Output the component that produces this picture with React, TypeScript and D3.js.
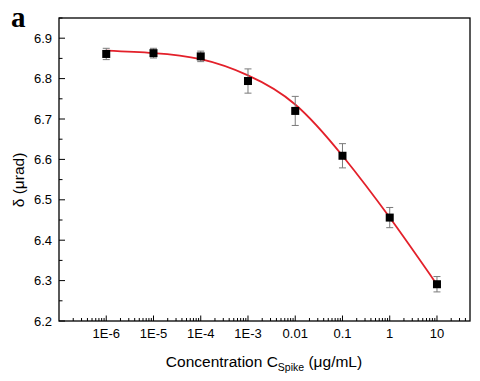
import React from "react";
import * as d3 from "d3";

const concentrations = [1e-6, 1e-5, 1e-4, 1e-3, 0.01, 0.1, 1, 10];
const deltaValues = [6.861, 6.863, 6.855, 6.794, 6.72, 6.609, 6.456, 6.291];
const deltaErrors = [0.014, 0.012, 0.013, 0.03, 0.036, 0.03, 0.025, 0.019];
const fitX = [1e-6, 1e-5, 1e-4, 1e-3, 0.01, 0.1, 1, 10];
const fitY = [6.869, 6.863, 6.848, 6.808, 6.736, 6.609, 6.456, 6.29];
const xTickValues = [1e-6, 1e-5, 1e-4, 1e-3, 0.01, 0.1, 1, 10];
const xTickLabels = ["1E-6", "1E-5", "1E-4", "1E-3", "0.01", "0.1", "1", "10"];
const yTickValues = [6.2, 6.3, 6.4, 6.5, 6.6, 6.7, 6.8, 6.9];

const W = 480;
const H = 381;
const M = { left: 59, right: 470, top: 18, bottom: 321 };

export default function App() {
  const x = d3.scaleLog().domain([1e-7, 50]).range([M.left, M.right]);
  const y = d3.scaleLinear().domain([6.2, 6.95]).range([M.bottom, M.top]);

  const minorX: number[] = [];
  for (let e = -7; e <= 1; e++) {
    for (let k = 2; k <= 9; k++) {
      const v = k * Math.pow(10, e);
      if (v < 50) minorX.push(v);
    }
  }
  const minorY = d3.range(6.25, 6.95, 0.1);

  const line = d3
    .line<number>()
    .x((_, i) => x(fitX[i]))
    .y((d) => y(d))
    .curve(d3.curveNatural);

  const font = "Liberation Sans, Arial, sans-serif";
  const errColor = "#7a7a7a";

  return (
    <svg
      width={W}
      height={H}
      style={{ position: "absolute", left: 0, top: 0, background: "#fff" }}
    >
      <rect x={0} y={0} width={W} height={H} fill="#fff" />
      <text
        x={11}
        y={26.5}
        fontFamily="Liberation Serif, Times New Roman, serif"
        fontWeight="bold"
        fontSize={29}
        fill="#000"
      >
        a
      </text>

      {/* curve */}
      <path d={line(fitY) || ""} fill="none" stroke="#e3202a" strokeWidth={1.8} />

      {/* error bars */}
      {concentrations.map((c, i) => {
        const cx = x(c);
        const y1 = y(deltaValues[i] + deltaErrors[i]);
        const y2 = y(deltaValues[i] - deltaErrors[i]);
        return (
          <g key={"e" + i} stroke={errColor} strokeWidth={1}>
            <line x1={cx} x2={cx} y1={y1} y2={y2} />
            <line x1={cx - 3.5} x2={cx + 3.5} y1={y1} y2={y1} />
            <line x1={cx - 3.5} x2={cx + 3.5} y1={y2} y2={y2} />
          </g>
        );
      })}

      {/* markers */}
      {concentrations.map((c, i) => (
        <rect
          key={"m" + i}
          x={x(c) - 4}
          y={y(deltaValues[i]) - 4}
          width={8}
          height={8}
          fill="#000"
        />
      ))}

      {/* frame */}
      <rect
        x={M.left}
        y={M.top}
        width={M.right - M.left}
        height={M.bottom - M.top}
        fill="none"
        stroke="#000"
        strokeWidth={1.3}
      />

      {/* x ticks */}
      {xTickValues.map((v, i) => (
        <g key={"xt" + i}>
          <line x1={x(v)} x2={x(v)} y1={M.bottom} y2={M.bottom - 5.5} stroke="#000" strokeWidth={1} />
          <text
            x={x(v)}
            y={338}
            textAnchor="middle"
            fontFamily={font}
            fontSize={13}
            fill="#000"
          >
            {xTickLabels[i]}
          </text>
        </g>
      ))}
      {minorX.map((v, i) => (
        <line key={"xm" + i} x1={x(v)} x2={x(v)} y1={M.bottom} y2={M.bottom - 3} stroke="#000" strokeWidth={1} />
      ))}

      {/* y ticks */}
      {yTickValues.map((v, i) => (
        <g key={"yt" + i}>
          <line x1={M.left} x2={M.left + 6} y1={y(v)} y2={y(v)} stroke="#000" strokeWidth={1} />
          <text
            x={52}
            y={y(v) + 4.6}
            textAnchor="end"
            fontFamily={font}
            fontSize={13}
            fill="#000"
          >
            {v.toFixed(1)}
          </text>
        </g>
      ))}
      {minorY.map((v, i) => (
        <line key={"ym" + i} x1={M.left} x2={M.left + 3.5} y1={y(v)} y2={y(v)} stroke="#000" strokeWidth={1} />
      ))}

      {/* axis titles */}
      <text
        x={264}
        y={366.5}
        textAnchor="middle"
        fontFamily={font}
        fontSize={15.5}
        fill="#000"
      >
        Concentration C
        <tspan fontSize={10.5} dy={4}>Spike</tspan>
        <tspan dy={-4}> (μg/mL)</tspan>
      </text>
      <text
        transform={`translate(24,180) rotate(-90)`}
        textAnchor="middle"
        fontFamily={font}
        fontSize={15.5}
        fill="#000"
      >
        δ (μrad)
      </text>
    </svg>
  );
}
